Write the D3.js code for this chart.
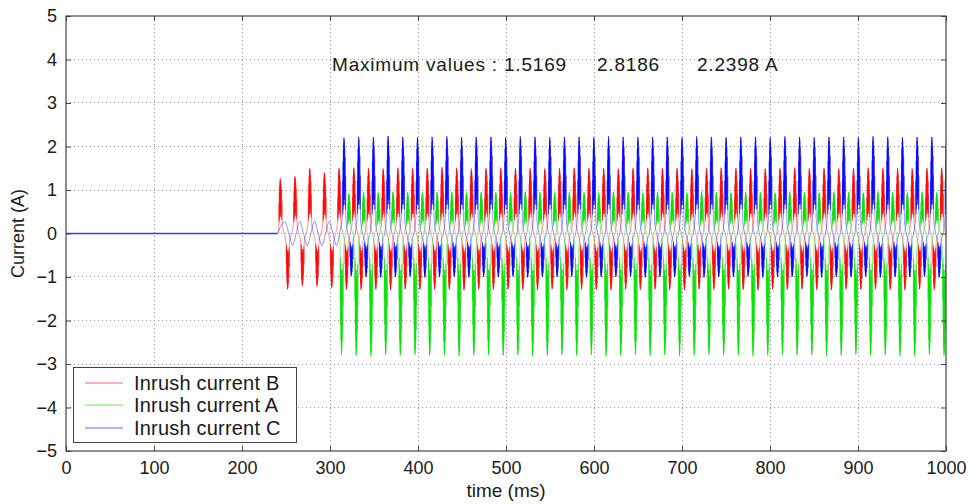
<!DOCTYPE html>
<html><head><meta charset="utf-8">
<script src="https://cdn.jsdelivr.net/npm/d3@7"></script>
<style>
body{margin:0;background:#fff;}
svg text{font-family:"Liberation Sans",Arial,Helvetica,sans-serif;fill:#1a1a1a;}
</style></head><body>
<svg id="c" width="973" height="504"></svg>
<script>
// ---------------- data ----------------
const xTicks = [0,100,200,300,400,500,600,700,800,900,1000];
const yTicks = [-5,-4,-3,-2,-1,0,1,2,3,4,5];
const seriesNames = ["Inrush current B","Inrush current A","Inrush current C"];
const maxLabel = "Maximum values : ";
const maxValues = ["1.5169","2.8186","2.2398 A"];
// times (ms) of the positive peak of phase B in each cycle
const cycleTimes = [243.5,260.2,276.9,293.6,310.3,327.0,343.7,360.4,377.1,393.8,
  410.5,427.2,443.9,460.6,477.3,494.0,510.7,527.4,544.1,560.8,
  577.5,594.2,610.9,627.6,644.3,661.0,677.7,694.4,711.1,727.8,
  744.5,761.2,777.9,794.6,811.3,828.0,844.7,861.4,878.1,894.8,
  911.5,928.2,944.9,961.6,978.3,995.0];
// onset time (ms) of each trace leaving zero
const onsetB = 241.5, onsetA = 311.0, onsetC = 240.0;
// peak times after each cycle time (ms): [positive peak, negative peak]
const offsetB = [0, 8.33];
const offsetA = [11.11, 2.78];
const offsetC = [5.56, 13.89];
// phase B (red)
const posB = [1.26,1.31,1.50,1.40,1.50,1.51,1.50,1.49,1.51,1.50,
  1.50,1.5169,1.50,1.49,1.50,1.51,1.50,1.50,1.49,1.50,
  1.51,1.50,1.50,1.49,1.50,1.51,1.50,1.50,1.49,1.50,
  1.51,1.50,1.50,1.49,1.50,1.51,1.50,1.50,1.49,1.50,
  1.51,1.50,1.50,1.49,1.50,1.51];
const negB = [-1.28,-1.20,-1.21,-1.25,-1.28,-1.29,-1.28,-1.30,-1.28,-1.29,
  -1.28,-1.29,-1.30,-1.28,-1.29,-1.28,-1.29,-1.30,-1.28,-1.29,
  -1.28,-1.29,-1.30,-1.28,-1.29,-1.28,-1.29,-1.30,-1.28,-1.29,
  -1.28,-1.29,-1.30,-1.28,-1.29,-1.28,-1.29,-1.30,-1.28,-1.29,
  -1.28,-1.29,-1.30,-1.28,-1.29,-1.28];
// phase A (green)
const posA = [null,null,null,null,0.92,0.95,0.94,0.96,0.95,0.94,
  0.95,0.96,0.94,0.95,0.95,0.94,0.96,0.95,0.94,0.95,
  0.95,0.94,0.96,0.95,0.94,0.95,0.95,0.94,0.96,0.95,
  0.94,0.95,0.95,0.94,0.96,0.95,0.94,0.95,0.95,0.94,
  0.96,0.95,0.94,0.95,0.95,0.94];
const negA = [null,null,null,null,-2.78,-2.80,-2.8186,-2.79,-2.80,-2.78,
  -2.80,-2.79,-2.81,-2.80,-2.78,-2.80,-2.79,-2.81,-2.80,-2.78,
  -2.80,-2.79,-2.81,-2.80,-2.78,-2.80,-2.79,-2.81,-2.80,-2.78,
  -2.80,-2.79,-2.81,-2.80,-2.78,-2.80,-2.79,-2.81,-2.80,-2.78,
  -2.80,-2.79,-2.81,-2.80,-2.78,-2.80];
// phase C (blue)
const posC = [null,null,null,null,2.20,2.22,2.21,2.2398,2.22,2.21,
  2.22,2.23,2.21,2.22,2.22,2.21,2.23,2.22,2.21,2.22,
  2.22,2.21,2.23,2.22,2.21,2.22,2.22,2.21,2.23,2.22,
  2.21,2.22,2.22,2.21,2.23,2.22,2.21,2.22,2.22,2.21,
  2.23,2.22,2.21,2.22,2.22,2.21];
const negC = [null,null,null,null,-0.98,-1.00,-1.01,-1.00,-0.99,-1.01,
  -1.00,-0.99,-1.01,-1.00,-1.00,-0.99,-1.01,-1.00,-1.00,-0.99,
  -1.01,-1.00,-1.00,-0.99,-1.01,-1.00,-1.00,-0.99,-1.01,-1.00,
  -1.00,-0.99,-1.01,-1.00,-1.00,-0.99,-1.01,-1.00,-1.00,-0.99,
  -1.01,-1.00,-1.00,-0.99,-1.01,-1.00];
// small induced oscillation of phase C before it is energized
const inducedC = [0.27,0.28,0.28,0.28];

// ---------------- drawing ----------------
const svg = d3.select("#c");
const x = d3.scaleLinear().domain([0,1000]).range([66,946]);
const y = d3.scaleLinear().domain([-5,5]).range([451,16]);
const colors = ["#ff0000","#00e000","#0000ff"];

// grid
const grid = svg.append("g");
grid.selectAll("line.gx").data(xTicks.slice(1,-1)).join("line")
  .attr("x1",d=>x(d)+0.5).attr("x2",d=>x(d)+0.5).attr("y1",y(5)).attr("y2",y(-5))
  .attr("stroke","#9a9a9a").attr("stroke-dasharray","1,3");
grid.selectAll("line.gy").data(yTicks.slice(1,-1).filter(d=>d!==0)).join("line")
  .attr("y1",d=>Math.floor(y(d))+0.5).attr("y2",d=>Math.floor(y(d))+0.5).attr("x1",x(0)).attr("x2",x(1000))
  .attr("stroke","#9a9a9a").attr("stroke-dasharray","1,3");
grid.append("line").attr("y1",Math.floor(y(0))+0.5).attr("y2",Math.floor(y(0))+0.5)
  .attr("x1",x(onsetC)).attr("x2",x(1000)).attr("stroke","#9a9a9a").attr("stroke-dasharray","1,3");

svg.append("clipPath").attr("id","clip").append("rect")
  .attr("x",x(0)).attr("y",y(5)).attr("width",x(1000)-x(0)).attr("height",y(-5)-y(5));

// lobe drawing template (relative ms, fraction of peak)
const lobeT = [-1.6,-1.45,-1.3,-1.1,-0.9,-0.7,-0.5,-0.3,-0.1,0,0.2,0.45,0.7,0.95,1.2,1.45,1.7,1.95,2.2];
const lobeF = [0.2,0.55,0.2,0.75,0.25,0.88,0.3,0.95,0.35,1,0.4,0.97,0.35,0.9,0.3,0.8,0.25,0.6,0.15];

function build(onset,pos,neg,off,induced){
  const ev=[];
  cycleTimes.forEach((t,k)=>{
    if(pos[k]!=null) ev.push({t:t+off[0],v:pos[k],big:true});
    else if(induced && induced[k]!=null) ev.push({t:t+off[0],v:induced[k],big:false});
    if(neg[k]!=null) ev.push({t:t+off[1],v:neg[k],big:true});
    else if(induced && induced[k]!=null) ev.push({t:t+off[1],v:-induced[k],big:false});
  });
  ev.sort((a,b)=>a.t-b.t);
  const pts=[[onset,0]];
  ev.forEach((e,i)=>{
    if(e.big) lobeT.forEach((r,j)=>pts.push([e.t+r,e.v*lobeF[j]]));
    else pts.push([e.t,e.v]);
    const n=ev[i+1];
    if(n){
      const a = e.big? e.t+2.2 : e.t, b = n.big? n.t-1.6 : n.t;
      pts.push([(a+b)/2,0]);
    }
  });
  return {pts, ev, onset};
}
const series = [
  build(onsetB,posB,negB,offsetB,null),
  build(onsetA,posA,negA,offsetA,null),
  build(onsetC,posC,negC,offsetC,inducedC)
];
const line = d3.line().x(d=>x(d[0])).y(d=>y(d[1])).curve(d3.curveMonotoneX);
const plot = svg.append("g").attr("clip-path","url(#clip)");
series.forEach((s,i)=>{
  plot.append("path").attr("d",line(s.pts)).attr("fill","none")
    .attr("stroke",colors[i]).attr("stroke-width",1).attr("stroke-opacity",0.42);
  plot.append("path").attr("d",s.ev.filter(e=>e.big).map(e=>`M${x(e.t)},${y(e.v*0.3)}L${x(e.t)},${y(e.v)}`).join(""))
    .attr("fill","none").attr("stroke",colors[i]).attr("stroke-width",1).attr("stroke-opacity",0.75);
});
// every trace sits at zero before its onset; phase C is drawn last so it shows on top
plot.append("path").attr("d",d3.line().x(d=>x(d[0])).y(d=>Math.floor(y(d[1]))+0.5)([[0,0],[onsetC,0]]))
  .attr("fill","none").attr("stroke","#3a3aff").attr("stroke-width",1.3);

// axes (ticks inside, MATLAB style)
const fmt = d=> d<0 ? "\u2212"+Math.abs(d) : String(d);
function style(g){ g.select(".domain").remove(); g.selectAll(".tick line").attr("stroke","#444");
  g.selectAll("text").attr("font-size",18).style("fill","#1a1a1a"); g.attr("font-family",null); }
svg.append("g").attr("transform",`translate(0,${y(-5)})`)
  .call(d3.axisBottom(x).tickValues(xTicks).tickSize(-5).tickPadding(10).tickFormat(fmt)).call(style);
svg.append("g").attr("transform",`translate(${x(0)},0)`)
  .call(d3.axisLeft(y).tickValues(yTicks).tickSize(-5).tickPadding(9).tickFormat(fmt)).call(style);
svg.append("g").attr("transform",`translate(0,${y(5)})`)
  .call(d3.axisTop(x).tickValues(xTicks).tickSize(-5).tickFormat("")).call(style);
svg.append("g").attr("transform",`translate(${x(1000)},0)`)
  .call(d3.axisRight(y).tickValues(yTicks).tickSize(-5).tickFormat("")).call(style);
svg.append("rect").attr("x",x(0)).attr("y",y(5)).attr("width",x(1000)-x(0)).attr("height",y(-5)-y(5))
  .attr("fill","none").attr("stroke","#444").attr("stroke-width",1.2);

// axis titles
svg.append("text").attr("x",(x(0)+x(1000))/2).attr("y",497).attr("text-anchor","middle")
  .attr("font-size",19).text("time (ms)");
svg.append("text").attr("transform",`translate(24,${y(0)}) rotate(-90)`).attr("text-anchor","middle")
  .attr("font-size",18).text("Current (A)");

// annotation
const ann = svg.append("g").attr("font-size",19);
ann.append("text").attr("x",332).attr("y",71).attr("letter-spacing",0.8).text(maxLabel+maxValues[0]);
ann.append("text").attr("x",597).attr("y",71).attr("letter-spacing",0.8).text(maxValues[1]);
ann.append("text").attr("x",697).attr("y",71).attr("letter-spacing",0.8).text(maxValues[2]);

// legend
const lg = svg.append("g");
lg.append("rect").attr("x",73.5).attr("y",367.5).attr("width",223).attr("height",75)
  .attr("fill","#fff").attr("stroke","#444").attr("stroke-width",1);
const ly = [383,405,428];
seriesNames.forEach((n,i)=>{
  lg.append("line").attr("x1",85).attr("x2",123).attr("y1",ly[i]).attr("y2",ly[i])
    .attr("stroke",colors[i]).attr("stroke-opacity",0.6).attr("stroke-width",1.2);
  lg.append("text").attr("x",134).attr("y",ly[i]+7).attr("font-size",20).attr("letter-spacing",0.2).text(n);
});
</script>
</body></html>
